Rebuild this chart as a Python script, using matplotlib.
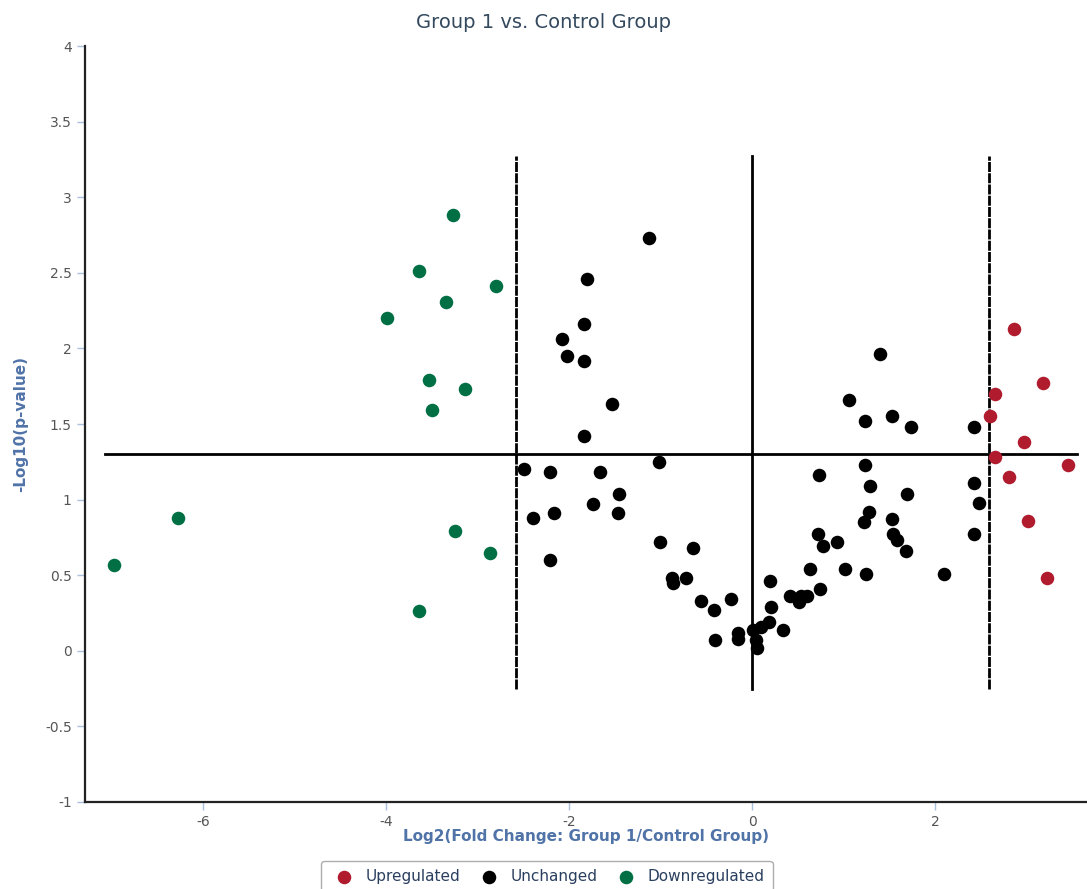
import matplotlib
matplotlib.use("Agg")
import matplotlib.pyplot as plt

up_x = [2.86, 3.18, 2.66, 2.60, 2.97, 2.65, 3.45, 2.81, 3.02, 3.22]
up_y = [2.13, 1.77, 1.70, 1.55, 1.38, 1.28, 1.23, 1.15, 0.86, 0.48]

down_x = [-3.27, -3.64, -3.34, -2.80, -3.99, -3.53, -3.14, -3.50, -6.27, -3.25, -2.86, -6.97, -3.64]
down_y = [2.88, 2.51, 2.31, 2.41, 2.20, 1.79, 1.73, 1.59, 0.88, 0.79, 0.65, 0.57, 0.26]

unch_x = [-1.13, -1.80, -1.84, -2.08, -2.02, -1.84, -1.53, -1.84, 1.40, 1.06,
          1.23, 1.53, 1.74, 2.43, -1.02, -2.49, -2.21, -1.66, -1.45, -1.74,
          -2.39, -2.16, -1.46, -2.21, 1.23, 0.73, 1.29, 1.69, 2.43, 2.48,
          1.28, 1.22, 1.53, 2.42, 0.72, 0.93, 0.77, 1.54, 1.58, 1.68,
          -1.01, -0.65, 0.63, 1.02, 1.24, 2.10, -0.88, -0.72, -0.86, 0.20,
          -0.56, -0.23, -0.42, 0.74, 0.41, 0.53, 0.60, 0.51, 0.21, 0.18,
          0.34, 0.10, 0.01, -0.15, -0.15, -0.40, 0.04, 0.05]
unch_y = [2.73, 2.46, 2.16, 2.06, 1.95, 1.92, 1.63, 1.42, 1.96, 1.66,
          1.52, 1.55, 1.48, 1.48, 1.25, 1.20, 1.18, 1.18, 1.04, 0.97,
          0.88, 0.91, 0.91, 0.60, 1.23, 1.16, 1.09, 1.04, 1.11, 0.98,
          0.92, 0.85, 0.87, 0.77, 0.77, 0.72, 0.69, 0.77, 0.73, 0.66,
          0.72, 0.68, 0.54, 0.54, 0.51, 0.51, 0.48, 0.48, 0.45, 0.46,
          0.33, 0.34, 0.27, 0.41, 0.36, 0.36, 0.36, 0.32, 0.29, 0.19,
          0.14, 0.16, 0.14, 0.12, 0.08, 0.07, 0.07, 0.02]

fc_cut = 2.585
p_cut = 1.301

def main():
	plt.rcParams["axes.unicode_minus"] = False
	fig = plt.figure(figsize=(10.87, 8.89), dpi=100)
	ax = fig.add_axes([0.0782, 0.0979, 0.9218, 0.8503])

	ax.scatter(up_x, up_y, s=95, color="#b01c2e", label="Upregulated", zorder=3, linewidths=0)
	ax.scatter(unch_x, unch_y, s=95, color="black", label="Unchanged", zorder=3, linewidths=0)
	ax.scatter(down_x, down_y, s=95, color="#006f43", label="Downregulated", zorder=3, linewidths=0)

	# threshold lines
	ax.plot([-7.07, 3.55], [p_cut, p_cut], color="black", lw=2, zorder=2)
	ax.plot([0, 0], [-0.25, 3.27], color="black", lw=2, zorder=2)
	for xv in (-fc_cut, fc_cut):
		ax.plot([xv, xv], [-0.25, 3.27], color="black", lw=2, dashes=(3.6, 0.45), zorder=2)

	ax.set_xlim(-7.29, 3.66)
	ax.set_ylim(-1, 4)
	ax.set_xticks([-6, -4, -2, 0, 2])
	ax.set_yticks([-1, -0.5, 0, 0.5, 1, 1.5, 2, 2.5, 3, 3.5, 4])
	ax.set_yticklabels(["-1", "-0.5", "0", "0.5", "1", "1.5", "2", "2.5", "3", "3.5", "4"])
	ax.tick_params(colors="#a9c1de", labelcolor="#555555", labelsize=10, length=6, width=1)

	for s in ("top", "right"):
		ax.spines[s].set_visible(False)
	for s in ("left", "bottom"):
		ax.spines[s].set_color("#222222")
		ax.spines[s].set_linewidth(1.6)

	ax.set_xlabel("Log2(Fold Change: Group 1/Control Group)", color="#5073a8",
		fontsize=11, fontweight="bold", labelpad=0)
	ax.set_ylabel("-Log10(p-value)", color="#5073a8", fontsize=11, fontweight="bold", labelpad=12)

	fig.text(0.5, 0.975, "Group 1 vs. Control Group", ha="center", va="center",
		fontsize=14, color="#34495e")

	leg = fig.legend(loc="upper center", bbox_to_anchor=(0.503, 0.040), ncol=3, frameon=True,
		fontsize=11, handletextpad=0.4, columnspacing=0.9, markerscale=1.0, borderpad=0.5,
		fancybox=True)
	for t in leg.get_texts():
		t.set_color("#2a3f5f")
	leg.get_frame().set_edgecolor("#999999")

	fig.savefig("out.png", dpi=100)

if __name__ == "__main__":
	main()
